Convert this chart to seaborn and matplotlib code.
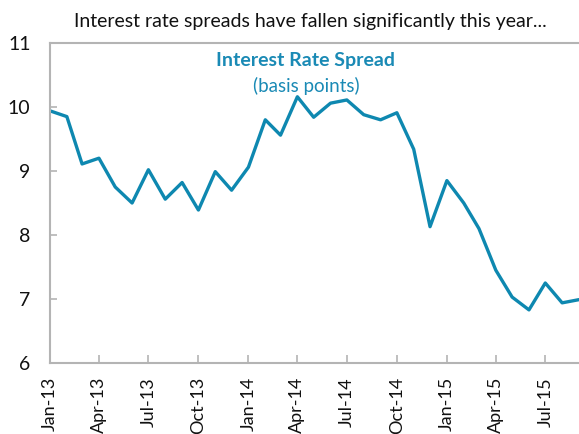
import pandas as pd
import matplotlib
matplotlib.use("Agg")
import matplotlib.pyplot as plt
import matplotlib.dates as mdates
import seaborn as sns

# monthly interest rate spread (basis points), Jan-13 .. Sep-15
months = ["2013-01", "2013-02", "2013-03", "2013-04", "2013-05", "2013-06",
          "2013-07", "2013-08", "2013-09", "2013-10", "2013-11", "2013-12",
          "2014-01", "2014-02", "2014-03", "2014-04", "2014-05", "2014-06",
          "2014-07", "2014-08", "2014-09", "2014-10", "2014-11", "2014-12",
          "2015-01", "2015-02", "2015-03", "2015-04", "2015-05", "2015-06",
          "2015-07", "2015-08", "2015-09"]
spread = [9.94, 9.85, 9.11, 9.20, 8.75, 8.50,
          9.02, 8.56, 8.82, 8.39, 8.99, 8.70,
          9.06, 9.80, 9.56, 10.16, 9.84, 10.06,
          10.11, 9.88, 9.80, 9.91, 9.34, 8.13,
          8.85, 8.50, 8.10, 7.45, 7.03, 6.83,
          7.25, 6.94, 6.99]
y_ticks = [6, 7, 8, 9, 10, 11]

df = pd.DataFrame({"date": pd.to_datetime(months), "spread": spread})

sns.set_style("white")
plt.rcParams["font.family"] = ["Lato", "DejaVu Sans"]

line_col = "#0e88b0"
axis_col = "#b4b4b4"

fig = plt.figure(figsize=(5.79, 4.34), dpi=100)
ax = fig.add_axes([50 / 579, 1 - 363 / 434, 529 / 579, 320 / 434])

sns.lineplot(data=df, x="date", y="spread", ax=ax, color=line_col, linewidth=2.4)

ax.set_xlim(df["date"].iloc[0], df["date"].iloc[-1])
ax.set_ylim(6, 11)
ax.set_yticks(y_ticks)
ax.xaxis.set_major_locator(mdates.MonthLocator(bymonth=[1, 4, 7, 10]))
ax.xaxis.set_major_formatter(mdates.DateFormatter("%b-%y"))
ax.set_xlabel("")
ax.set_ylabel("")

for side in ["left", "bottom", "top"]:
    ax.spines[side].set_visible(True)
    ax.spines[side].set_color(axis_col)
    ax.spines[side].set_linewidth(1.5)
ax.spines["right"].set_visible(False)

ax.tick_params(axis="x", direction="in", length=6, width=1.2, color=axis_col,
               labelsize=13, labelrotation=90, pad=10, labelcolor="#111111")
ax.tick_params(axis="y", direction="in", length=5, width=1.2, color=axis_col,
               labelsize=14, pad=14, labelcolor="#111111")
ax.tick_params(axis="y", left=True)
ax.tick_params(axis="x", bottom=True)

fig.text(310 / 579, 1 - 21 / 434, "Interest rate spreads have fallen significantly this year...",
         ha="center", va="center", fontsize=14, color="#111111")
fig.text(306 / 579, 1 - 60 / 434, "Interest Rate Spread", ha="center", va="center",
         fontsize=14, fontweight="bold", color="#1a8ab5")
fig.text(306 / 579, 1 - 86 / 434, "(basis points)", ha="center", va="center",
         fontsize=13.5, color="#1a8ab5")

fig.savefig("out.png", dpi=100)
